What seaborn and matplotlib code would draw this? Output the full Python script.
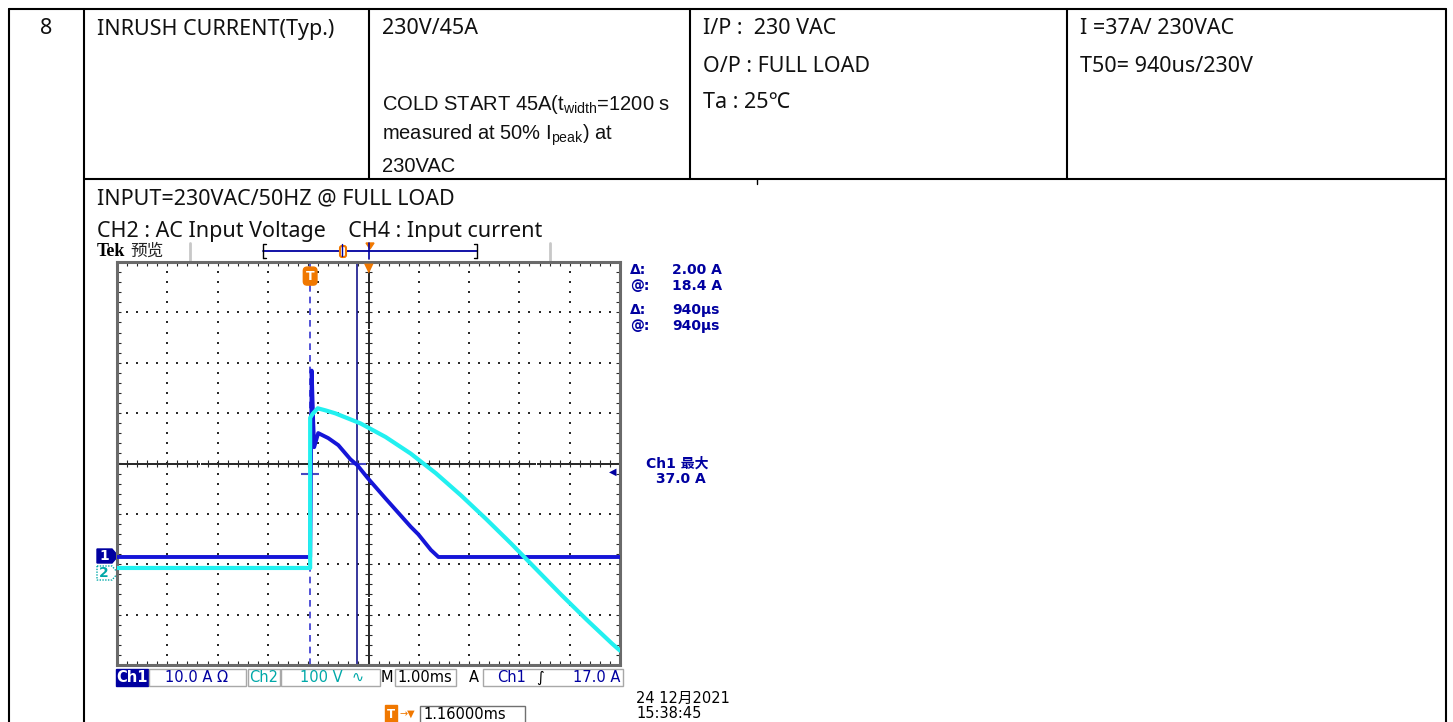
import numpy as np
import pandas as pd
import matplotlib
matplotlib.use("Agg")
import matplotlib.pyplot as plt
import seaborn as sns
from matplotlib.patches import Rectangle, Polygon, FancyBboxPatch
from matplotlib.collections import LineCollection

sns.set_theme(style="white")
plt.rcParams['font.family'] = ['Noto Sans', 'Noto Sans CJK SC', 'DejaVu Sans']
plt.rcParams['mathtext.fontset'] = 'custom'
plt.rcParams['mathtext.rm'] = 'Liberation Sans'

# ---------------- data ----------------
ch1_time_ms = [-3.84, 0.0, 0.01, 0.03, 0.06, 0.08, 0.16, 0.36, 0.56, 0.80, 0.94,
               1.15, 1.50, 2.00, 2.15, 2.40, 2.55, 6.16]
ch1_current_a = [0.0, 0.0, 10.0, 37.0, 27.0, 21.8, 24.6, 23.6, 22.2, 19.4, 18.2,
                 15.6, 11.6, 6.0, 4.5, 1.4, 0.0, 0.0]
ch2_time_ms = [-3.84, 0.0, 0.0, 0.05, 0.15, 0.3, 0.5, 1.0, 1.5, 2.0, 2.5, 3.0,
               3.5, 4.0, 4.47, 5.0, 5.5, 6.0, 6.16]
ch2_voltage_v = [0, 0, 298, 306, 317, 313, 307, 287, 260, 227, 188, 144,
                 97, 48, 0, -54, -103, -150, -164]

time_range_ms = [-3.84, 6.16]      # 10 div x 1.00 ms, centre at 1.16 ms
ch1_range_a = [-21.44, 58.56]      # 10.0 A/div, ground -1.86 div
ch2_range_v = [-192.6, 607.4]      # 100 V/div, ground -2.07 div
cursor_t_ms = 0.94
hcursor_a = [16.4, 18.4]
trigger_level_a = 17.0

table_row1 = ["8", "INRUSH CURRENT(Typ.)", "230V/45A"]
cond_lines = ["I/P :  230 VAC", "O/P : FULL LOAD", "Ta : 25\u2103"]
result_lines = ["I =37A/ 230VAC", "T50= 940us/230V"]
note_lines = [r"COLD START 45A(t$_{\mathrm{width}}$=1200 s",
              r"measured at 50% I$_{\mathrm{peak}}$) at", "230VAC"]
caption_lines = ["INPUT=230VAC/50HZ @ FULL LOAD",
                 "CH2 : AC Input Voltage    CH4 : Input current"]
readouts = [("\u0394:", "2.00 A"), ("@:", "18.4 A"), ("\u0394:", "940\u00b5s"), ("@:", "940\u00b5s")]

df1 = pd.DataFrame({"t": ch1_time_ms, "a": ch1_current_a})
df2 = pd.DataFrame({"t": ch2_time_ms, "v": ch2_voltage_v})

NAVY = '#0000A0'
BLUE = '#1515D8'
CYAN = '#22F0F0'
TEAL = '#00A8A8'
ORANGE = '#F07800'

W, H = 1453, 722
fig = plt.figure(figsize=(W / 100, H / 100), dpi=100)
fig.patch.set_facecolor('white')
fax = fig.add_axes([0, 0, 1, 1])
fax.set_xlim(0, W); fax.set_ylim(H, 0); fax.axis('off')


def px_rect(l, t, r, b):
    return [l / W, 1 - b / H, (r - l) / W, (b - t) / H]


# ---------------- table ----------------
lw_t = 1.5
fax.plot([9, 1446], [9, 9], color='black', lw=lw_t)
fax.plot([84, 1446], [179, 179], color='black', lw=lw_t)
for x, yb in [(9, 722), (84, 722), (369, 179), (690, 179), (1067, 179), (1446, 722)]:
    fax.plot([x, x], [9, yb], color='black', lw=lw_t)
fax.plot([757, 757], [179, 184], color='black', lw=1)

tf = dict(fontsize=15.5, color='#111111', va='center', family=['Noto Sans', 'DejaVu Sans'])
fax.text(46, 29, table_row1[0], ha='center', **tf)
fax.text(97, 29, table_row1[1], ha='left', **tf)
fax.text(382, 29, table_row1[2], ha='left', **tf)
for i, s in enumerate(cond_lines):
    fax.text(703, 29 + 37 * i, s, ha='left', **tf)
for i, s in enumerate(result_lines):
    fax.text(1080, 29 + 37 * i, s, ha='left', **tf)
for i, s in enumerate(note_lines):
    fax.text(382, 104 + 31.5 * i, s, ha='left', va='center', fontsize=14.5,
             color='#111111', family='Liberation Sans')
for i, s in enumerate(caption_lines):
    fax.text(97, 199 + 32 * i, s, ha='left', **tf)

# ---------------- scope header ----------------
fax.text(97, 251, "Tek", family='Liberation Serif', weight='bold', fontsize=13,
         va='center', ha='left', color='black')
fax.text(130, 251, "\u9884\u89c8", family='Noto Sans CJK SC', fontsize=12,
         va='center', ha='left', color='#222222')
for x in (190, 550):
    fax.plot([x, x], [243, 262], color='#C8C8C8', lw=2)
fax.plot([263, 477], [251, 251], color=NAVY, lw=1.3)
fax.plot([263, 263, 266], [258, 244, 244], color='black', lw=1)
fax.plot([263, 266], [258, 258], color='black', lw=1)
fax.plot([477, 477, 474], [258, 244, 244], color='black', lw=1)
fax.plot([477, 474], [258, 258], color='black', lw=1)
fax.add_patch(FancyBboxPatch((340, 246), 6, 11, boxstyle='round,pad=0,rounding_size=2',
                             fc='white', ec=ORANGE, lw=1.5, zorder=3))
fax.plot([342, 342], [244, 256], color=NAVY, lw=1, zorder=4)
fax.plot([369, 369], [243, 259], color=NAVY, lw=1.2)
fax.add_patch(Polygon([[366, 243], [374, 243], [370, 249]], closed=True, color=ORANGE))

# ---------------- scope graticule ----------------
ax = fig.add_axes(px_rect(117, 262, 620, 665))
ax.set_facecolor('white')
t0, t1 = time_range_ms
tc = (t0 + t1) / 2
ax.set_xlim(t0, t1)
ax.set_ylim(-4, 4)
ax.set_xticks([]); ax.set_yticks([])
for sp in ax.spines.values():
    sp.set_color('#6A6A6A'); sp.set_linewidth(2.2); sp.set_visible(True)

dot_c = '#2A2A2A'
xs_major = [t0 + k for k in range(1, 10) if k != 5]
ys_major = [j for j in range(-3, 4) if j != 0]
ysteps = np.arange(-4, 4.001, 0.2)
xsteps = np.arange(t0, t1 + 0.001, 0.2)
for xg in xs_major:
    ax.scatter(np.full_like(ysteps, xg), ysteps, s=2.2, marker='s', color=dot_c, linewidths=0, zorder=1)
for yg in ys_major:
    ax.scatter(xsteps, np.full_like(xsteps, yg), s=2.2, marker='s', color=dot_c, linewidths=0, zorder=1)
# centre cross: dense dots and ticks
ax.scatter(np.full(201, tc), np.linspace(-4, 4, 201), s=1.2, marker='s', color=dot_c, linewidths=0, zorder=1)
ax.scatter(np.linspace(t0, t1, 251), np.zeros(251), s=1.2, marker='s', color=dot_c, linewidths=0, zorder=1)
segs = []
tl = 0.07
for y in ysteps:
    segs.append([(tc - tl, y), (tc + tl, y)])
    segs.append([(t0, y), (t0 + tl, y)])
    segs.append([(t1, y), (t1 - tl, y)])
for x in xsteps:
    segs.append([(x, -tl), (x, tl)])
    segs.append([(x, 4), (x, 4 - tl)])
    segs.append([(x, -4), (x, -4 + tl)])
ax.add_collection(LineCollection(segs, colors=dot_c, linewidths=0.8, zorder=1))

# trigger (dashed) and time cursor (solid)
ax.axvline(0.0, color='#3535D0', lw=1.2, ls=(0, (4, 3)), zorder=2)
ax.axvline(cursor_t_ms, color='#15158C', lw=1.2, zorder=2)

# ---------------- channel traces ----------------
ax_i = ax.twinx()
ax_v = ax.twinx()
sns.lineplot(data=df1, x='t', y='a', ax=ax_i, estimator=None, sort=False,
             color=BLUE, lw=2.8, zorder=3)
sns.lineplot(data=df2, x='t', y='v', ax=ax_v, estimator=None, sort=False,
             color=CYAN, lw=3.0, zorder=4)
ax_i.hlines(hcursor_a[0], -0.18, 0.18, color='#4848C0', lw=1.5)
ax_i.hlines(hcursor_a[1], cursor_t_ms - 0.15, cursor_t_ms + 0.18, color='#4848C0', lw=1.5)
ax_i.text(0.985, trigger_level_a, "\u25c0", transform=ax_i.get_yaxis_transform(),
          color=NAVY, fontsize=7, ha='center', va='center', family='DejaVu Sans')
for a_, lim in ((ax_i, ch1_range_a), (ax_v, ch2_range_v)):
    a_.set_ylim(*lim)
    a_.set_xlim(t0, t1)
    a_.set_axis_off()
ax.set_xlim(t0, t1)

# trigger marker T and position marker
ax.text(0.0, 3.72, "T", color='white', fontsize=9, weight='bold', ha='center', va='center',
        family='DejaVu Sans', zorder=6,
        bbox=dict(boxstyle='round,pad=0.2,rounding_size=0.3', fc=ORANGE, ec=ORANGE))
ax.text(tc, 3.88, "\u25bc", color=ORANGE, fontsize=9, ha='center', va='center',
        family='DejaVu Sans', zorder=6)

# ground markers
fax.add_patch(Polygon([[97, 549], [112, 549], [118, 556], [112, 563], [97, 563]],
                      closed=True, fc=NAVY, ec=NAVY))
fax.text(104, 556, "1", color='white', fontsize=10, weight='bold', ha='center', va='center',
         family='DejaVu Sans')
fax.add_patch(Polygon([[97, 566], [112, 566], [118, 573], [112, 580], [97, 580]],
                      closed=True, fc='white', ec=TEAL, lw=1, ls=(0, (1, 1))))
fax.text(104, 573, "2", color=TEAL, fontsize=10, weight='bold', ha='center', va='center',
         family='DejaVu Sans')

# ---------------- readouts ----------------
ro = dict(color=NAVY, fontsize=10, weight='bold', va='center', family=['DejaVu Sans', 'Noto Sans CJK SC'])
for (lab, val), y in zip(readouts, [270, 286, 310, 326]):
    fax.text(630, y, lab, ha='left', **ro)
    fax.text(672, y, val, ha='left', **ro)
fax.text(646, 464, "Ch1 \u6700\u5927", ha='left', **ro)
fax.text(656, 479, "37.0 A", ha='left', **ro)

# ---------------- status bar ----------------
sb = dict(fontsize=10.5, va='center', family=['DejaVu Sans', 'Noto Sans CJK SC'])
fax.add_patch(Rectangle((116, 669), 32, 17, fc=NAVY, ec=NAVY))
fax.text(132, 677.5, "Ch1", color='white', ha='center', weight='bold', **sb)
for l, r in [(149, 246), (281, 380), (395, 456), (483, 623)]:
    fax.add_patch(Rectangle((l, 669), r - l, 17, fc='white', ec='#A8A8A8', lw=1))
fax.add_patch(Rectangle((248, 669), 32, 17, fc='white', ec='#A8A8A8', lw=1))
fax.text(165, 677.5, "10.0 A \u03a9", color=NAVY, ha='left', **sb)
fax.text(264, 677.5, "Ch2", color=TEAL, ha='center', **sb)
fax.text(300, 677.5, "100 V  \u223f", color=TEAL, ha='left', **sb)
fax.text(381, 677.5, "M", color='black', ha='left', **sb)
fax.text(397, 677.5, "1.00ms", color='black', ha='left', **sb)
fax.text(469, 677.5, "A", color='black', ha='left', **sb)
fax.text(497, 677.5, "Ch1", color=NAVY, ha='left', **sb)
fax.text(540, 677.5, "\u222b", color='black', ha='center', **sb)
fax.text(573, 677.5, "17.0 A", color=NAVY, ha='left', **sb)

fax.text(391, 714, "T", color='white', fontsize=8.5, weight='bold', ha='center', va='center',
         family='DejaVu Sans',
         bbox=dict(boxstyle='square,pad=0.2', fc=ORANGE, ec=ORANGE))
fax.text(407, 714, "\u2192\u25bc", color=ORANGE, fontsize=7, ha='center', va='center', family='DejaVu Sans')
fax.add_patch(Rectangle((420, 706), 105, 17, fc='white', ec='#707070', lw=1))
fax.text(423, 714.5, "1.16000ms", color='black', ha='left', **sb)
fax.text(636, 698, "24 12\u67082021", color='black', ha='left', **sb)
fax.text(636, 714, "15:38:45", color='black', ha='left', **sb)

fig.savefig("out.png", dpi=100, facecolor='white')
